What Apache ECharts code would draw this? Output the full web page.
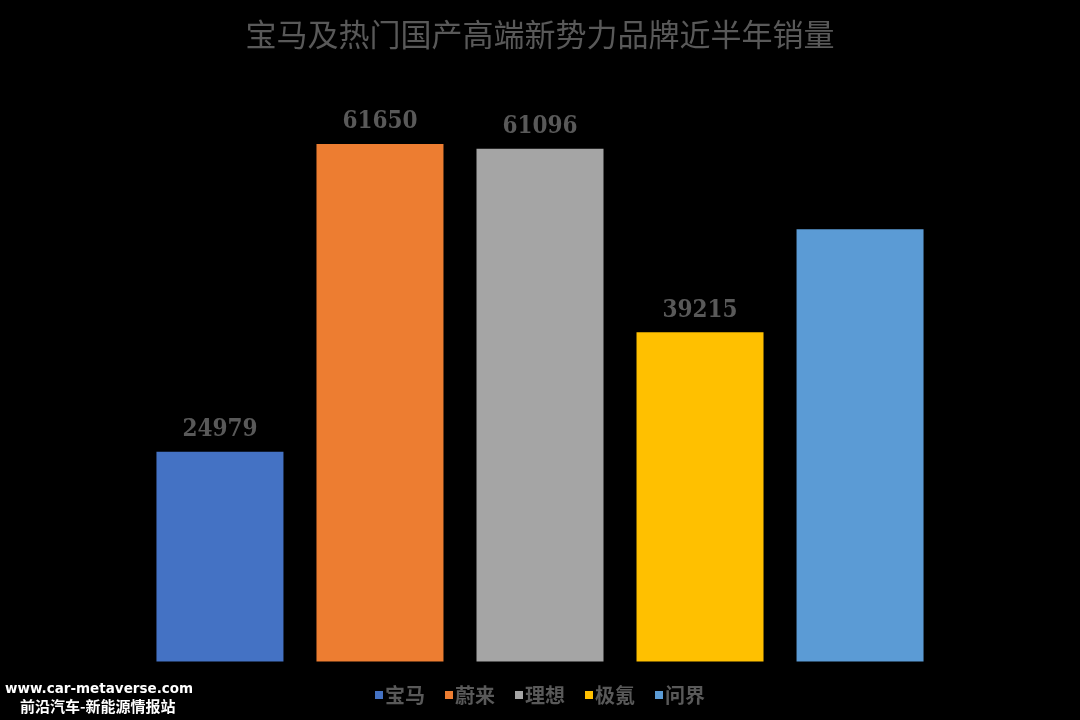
<!DOCTYPE html>
<html><head><meta charset="utf-8">
<style>html,body{margin:0;padding:0;background:#000;}#c{width:1080px;height:720px;}</style>
<script src="https://cdn.jsdelivr.net/npm/echarts@6/dist/echarts.min.js"></script>
</head><body><div id="c"></div>
<script>
const titleText = '宝马及热门国产高端新势力品牌近半年销量';
const brands = ['宝马', '蔚来', '理想', '极氪', '问界'];
const sales = [24979, 61650, 61096, 39215, 51500];
const showLabel = [true, true, true, true, false];
const colors = ['#4472C4', '#ED7D31', '#A5A5A5', '#FFC000', '#5B9BD5'];
const watermark = ['www.car-metaverse.com', '前沿汽车-新能源情报站'];

const chart = echarts.init(document.getElementById('c'));
chart.setOption({
  backgroundColor: '#000',
  animation: false,
  title: {
    text: titleText, left: 'center', top: 14,
    textStyle: { color: '#595959', fontSize: 31, fontWeight: 'normal', fontFamily: 'Noto Sans CJK SC' }
  },
  legend: {
    data: brands, bottom: 10, left: 'center', itemWidth: 8, itemHeight: 8, itemGap: 20,
    icon: 'rect',
    textStyle: { color: '#595959', fontSize: 20, fontWeight: 'bold', fontFamily: 'Noto Sans CJK SC', padding: [0, 0, 0, -3] }
  },
  grid: { left: 100, right: 100, top: 74, bottom: 58.5 },
  xAxis: { type: 'category', data: [''], show: false },
  yAxis: { type: 'value', min: 0, max: 70000, show: false },
  series: brands.map((b, i) => ({
    name: b, type: 'bar', data: [sales[i]], barWidth: 127, barGap: '26%',
    itemStyle: { color: colors[i] },
    label: {
      show: showLabel[i], position: 'top', distance: 10, color: '#595959',
      fontSize: 24, fontFamily: '"DejaVu Serif Condensed", "DejaVu Serif"', fontWeight: 'bold'
    }
  })),
  graphic: [
    { type: 'text', left: 5, top: 682, style: { text: watermark[0], fill: '#fff', font: 'bold 13.5px "DejaVu Sans"' } },
    { type: 'text', left: 20, top: 699, style: { text: watermark[1], fill: '#fff', font: 'bold 15px "Noto Sans CJK SC"' } }
  ]
});
</script></body></html>
